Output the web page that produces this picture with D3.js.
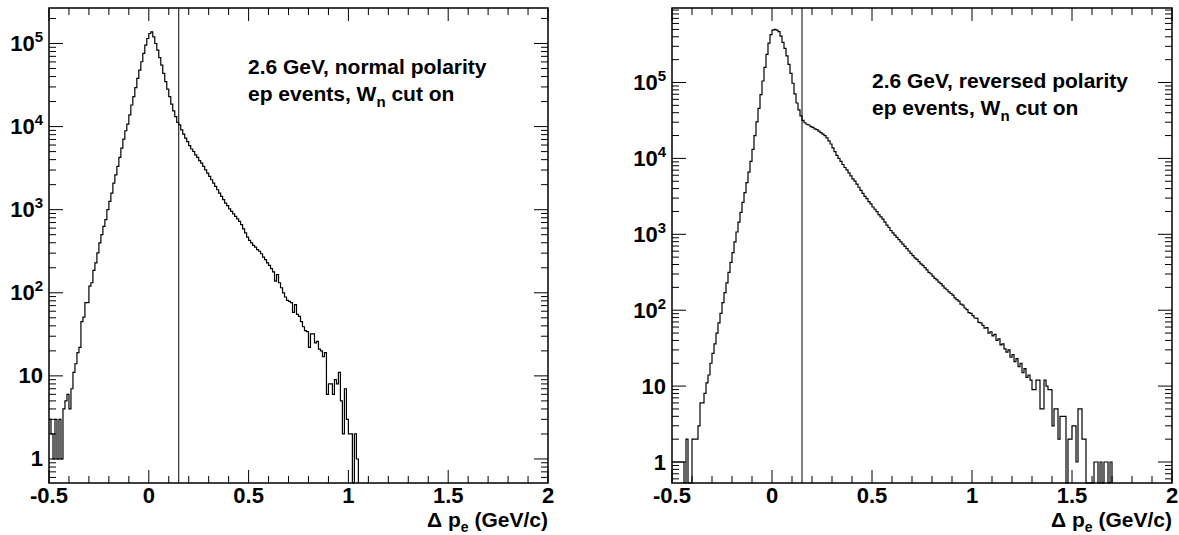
<!DOCTYPE html>
<html>
<head>
<meta charset="utf-8">
<script src="https://cdn.jsdelivr.net/npm/d3@7"></script>
<style>
  body { margin: 0; background: #fff; }
  text { font-family: "Liberation Sans", Arial, Helvetica, sans-serif; font-weight: bold; fill: #000; }
</style>
</head>
<body>
<svg id="chart" width="1179" height="535"></svg>
<script>
// histogram binning (GeV/c)
var binLow = -0.5;
var binWidth = 0.01;
var xTicks = [-0.5, 0, 0.5, 1, 1.5, 2];
var xTickLabels = ['-0.5', '0', '0.5', '1', '1.5', '2'];
var cutValue = 0.15;

// counts per bin, normal polarity (bins after the last value are empty)
var countsNormal = [3,2,1,3,1,3,1,4,5,6,
  4,7,11,14,19,22,45,51,76,76,
  120,132,186,229,302,398,501,631,759,1000,
  1259,1585,2089,2630,3311,4266,5495,7079,8913,10715,
  13804,18197,22909,29512,38019,47863,60256,75858,95499,114815,
  131826,138038,120226,100000,83176,67608,54954,43652,34674,28184,
  22909,18621,15488,13183,11220,10471,9120,8128,7244,6607,
  5888,5370,5012,4571,4266,3890,3631,3311,3020,2754,
  2512,2291,2089,1905,1738,1585,1445,1318,1202,1122,
  1023,955,891,832,776,724,661,589,525,468,
  427,398,372,355,331,316,295,269,251,229,
  214,195,178,138,166,132,115,100,89,81,
  79,76,58,72,55,52,45,39,35,34,
  22,32,32,25,26,21,20,17,19,6,
  8,8,6,9,8,11,5,2,7,3,
  2,2,0,2,1];

// counts per bin, reversed polarity
var countsReversed = [1,1,1,1,1,1,0,2,0,0,
  2,2,2,3,6,6,8,11,14,20,
  27,36,50,68,91,126,170,229,316,427,
  575,794,1072,1445,1950,2630,3548,4786,6607,9120,
  13183,19953,30200,45709,69183,104713,158489,234423,331131,426580,
  489779,501187,489779,467735,407380,338844,281838,223872,173780,131826,
  97724,70795,53703,43652,36308,31623,29512,28184,27542,26303,
  25704,24547,23988,22909,21878,20893,19953,18621,16982,15488,
  13804,12303,10965,10000,9120,8318,7586,7079,6457,5888,
  5370,5012,4571,4169,3802,3467,3162,2951,2692,2512,
  2291,2138,1995,1820,1698,1585,1445,1318,1230,1122,
  1047,977,912,851,794,741,692,646,603,562,
  525,490,468,437,407,389,363,339,316,302,
  282,263,251,234,224,209,195,186,174,166,
  158,145,138,132,120,117,107,102,93,91,
  85,79,78,69,68,63,58,59,50,52,
  46,48,40,42,35,36,31,28,30,24,
  26,21,23,18,20,15,17,13,14,12,
  9,9,12,12,5,5,12,10,9,9,
  3,5,5,2,4,4,4,0,2,2,
  3,3,1,5,5,2,2,0,0,0,
  0,1,1,0,1,0,1,1,0,1];

var noteNormal = ['2.6 GeV, normal polarity', 'ep events, W'];
var noteReversed = ['2.6 GeV, reversed polarity', 'ep events, W'];

var svg = d3.select('#chart');

function drawPanel(p) {
  var g = svg.append('g');
  var scaleX = d3.scaleLinear().domain([-0.5, 2]).range([p.x0, p.x1]);
  var scaleY = d3.scaleLog().domain(p.yDomain).range([p.y1, p.y0]);

  // frame
  g.append('rect')
    .attr('x', p.x0).attr('y', p.y0)
    .attr('width', p.x1 - p.x0).attr('height', p.y1 - p.y0)
    .attr('fill', 'none').attr('stroke', '#000').attr('stroke-width', 1.5);

  // x ticks, bottom and top (major every 0.5, minor every 0.1)
  var minorX = d3.range(-5, 21).map(function(i) { return i / 10; });
  minorX.forEach(function(v) {
    var major = Math.abs(v * 2 - Math.round(v * 2)) < 1e-6;
    var len = major ? 13 : 7;
    var x = scaleX(v);
    g.append('line').attr('x1', x).attr('x2', x)
      .attr('y1', p.y1).attr('y2', p.y1 - len)
      .attr('stroke', '#000').attr('stroke-width', 1);
    g.append('line').attr('x1', x).attr('x2', x)
      .attr('y1', p.y0).attr('y2', p.y0 + len)
      .attr('stroke', '#000').attr('stroke-width', 1);
  });
  xTicks.forEach(function(v, i) {
    g.append('text')
      .attr('x', scaleX(v)).attr('y', 503)
      .attr('text-anchor', 'middle')
      .style('font-size', '22px')
      .text(xTickLabels[i]);
  });

  // log y ticks, left and right
  var ylo = p.yDomain[0], yhi = p.yDomain[1];
  for (var d = -1; d <= 6; d++) {
    for (var k = 1; k <= 9; k++) {
      var v = k * Math.pow(10, d);
      if (v < ylo || v > yhi) continue;
      var len = k === 1 ? 14 : 7;
      var y = scaleY(v);
      g.append('line').attr('x1', p.x0).attr('x2', p.x0 + len)
        .attr('y1', y).attr('y2', y)
        .attr('stroke', '#000').attr('stroke-width', 1);
      g.append('line').attr('x1', p.x1).attr('x2', p.x1 - len)
        .attr('y1', y).attr('y2', y)
        .attr('stroke', '#000').attr('stroke-width', 1);
      if (k === 1 && d >= 0) {
        var t = g.append('text')
          .attr('x', p.x0 - 6).attr('y', y + 7.5)
          .attr('text-anchor', 'end')
          .style('font-size', '22px');
        if (d === 0) t.text('1');
        else if (d === 1) t.text('10');
        else {
          t.append('tspan').text('10');
          t.append('tspan').attr('dy', -9).style('font-size', '15px').text(d);
        }
      }
    }
  }

  // histogram as steps, empty bins drop to the frame bottom
  var pts = [];
  p.counts.forEach(function(c, i) {
    pts.push([binLow + i * binWidth, c]);
  });
  pts.push([binLow + p.counts.length * binWidth, 0]);
  var line = d3.line()
    .x(function(d) { return scaleX(d[0]); })
    .y(function(d) { return d[1] > 0 ? Math.max(scaleY(d[1]), p.y0) : p.y1; })
    .curve(d3.curveStepAfter);
  g.append('path')
    .attr('d', line(pts))
    .attr('fill', 'none').attr('stroke', '#000').attr('stroke-width', 1.2);

  // cut line
  g.append('line')
    .attr('x1', scaleX(cutValue)).attr('x2', scaleX(cutValue))
    .attr('y1', p.y0).attr('y2', p.y1)
    .attr('stroke', '#000').attr('stroke-width', 1);

  // note
  g.append('text').attr('x', p.noteX).attr('y', p.noteY)
    .style('font-size', '21px').text(p.note[0]);
  var t2 = g.append('text').attr('x', p.noteX).attr('y', p.noteY + 27)
    .style('font-size', '21px');
  t2.append('tspan').text(p.note[1]);
  t2.append('tspan').attr('dy', 6).style('font-size', '15px').text('n');
  t2.append('tspan').attr('dy', -6).text(' cut on');

  // x axis title
  var xt = g.append('text').attr('x', p.x1).attr('y', 527)
    .attr('text-anchor', 'end').style('font-size', '21px');
  xt.append('tspan').text('\u0394 p');
  xt.append('tspan').attr('dy', 5).style('font-size', '14px').text('e');
  xt.append('tspan').attr('dy', -5).text(' (GeV/c)');
}

drawPanel({x0: 49, x1: 548, y0: 8, y1: 483, yDomain: [0.514, 267300],
  counts: countsNormal, note: noteNormal, noteX: 248, noteY: 74});
drawPanel({x0: 672, x1: 1172, y0: 8, y1: 483, yDomain: [0.529, 958500],
  counts: countsReversed, note: noteReversed, noteX: 872, noteY: 88});
</script>
</body>
</html>
